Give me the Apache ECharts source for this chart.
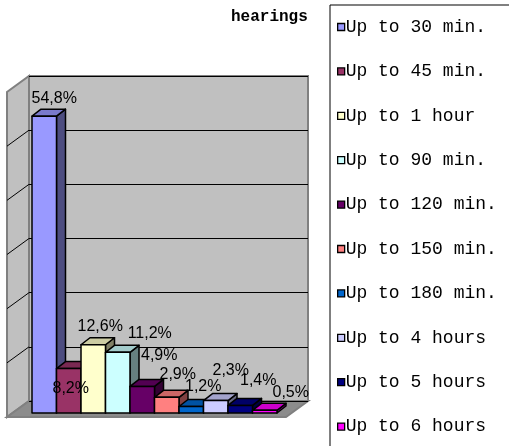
<!DOCTYPE html>
<html>
<head>
<meta charset="utf-8">
<script src="https://cdn.jsdelivr.net/npm/echarts@6/dist/echarts.min.js"></script>
<style>html,body{margin:0;padding:0;background:#fff;}#c{width:509px;height:446px;}</style>
</head>
<body>
<div id="c"></div>
<script>
// ---- data ----
const categories = ['Up to 30 min.', 'Up to 45 min.', 'Up to 1 hour', 'Up to 90 min.', 'Up to 120 min.',
  'Up to 150 min.', 'Up to 180 min.', 'Up to 4 hours', 'Up to 5 hours', 'Up to 6 hours'];
const values = [54.8, 8.2, 12.6, 11.2, 4.9, 2.9, 1.2, 2.3, 1.4, 0.5];
const axisTicks = [0, 10, 20, 30, 40, 50, 60];
const titleText = 'hearings';

// ---- styles / layout ----
const colors = ['#9999FF', '#993366', '#FFFFCC', '#CCFFFF', '#660066', '#FF8080', '#0066CC', '#CCCCFF', '#000080', '#FF00FF'];
const labelOffsets = [[10, -18], [2, 20], [7, -18], [32, -19], [17, -31], [11, -23], [12, -19.5], [15, -30], [18, -25], [26, -18]];
const W = 509, H = 446;
const wall = { x0: 29, y0: 76, x1: 308, y1: 401 };
const depth = { dx: -22, dy: 16 };
const barArea = { x0: 32, x1: 277, y1: 413 };
const barDepth = { dx: 9, dy: -7 };

function shade(hex, f) {
  const n = parseInt(hex.slice(1), 16);
  const r = Math.round(((n >> 16) & 255) * f), g = Math.round(((n >> 8) & 255) * f), b = Math.round((n & 255) * f);
  return 'rgb(' + r + ',' + g + ',' + b + ')';
}

const yMax = axisTicks[axisTicks.length - 1];
const wallH = wall.y1 - wall.y0;

const chart = echarts.init(document.getElementById('c'), null, { renderer: 'canvas' });

const barSeries = categories.map((name, i) => ({
  type: 'custom',
  name: name,
  xAxisIndex: 1,
  yAxisIndex: 1,
  data: [[i, values[i]]],
  itemStyle: { color: colors[i] },
  z: 3,
  renderItem: function (params, api) {
    const x = api.value(0), v = api.value(1);
    const base = api.coord([x, 0]);
    const top = api.coord([x, v]);
    const w = api.size([1, 0])[0];
    const l = base[0] - w / 2, r = base[0] + w / 2, b = base[1], t = top[1];
    const dx = barDepth.dx, dy = barDepth.dy;
    const c = colors[i];
    const edge = { stroke: '#000', lineWidth: 1.5, lineJoin: 'round' };
    return {
      type: 'group',
      children: [
        { type: 'polygon', shape: { points: [[r, t], [r + dx, t + dy], [r + dx, b + dy], [r, b]] },
          style: Object.assign({ fill: shade(c, 0.5) }, edge) },
        { type: 'polygon', shape: { points: [[l, t], [l + dx, t + dy], [r + dx, t + dy], [r, t]] },
          style: Object.assign({ fill: shade(c, 0.8) }, edge) },
        { type: 'rect', shape: { x: l, y: t, width: w, height: b - t },
          style: Object.assign({ fill: c }, edge) }
      ]
    };
  }
}));

const labelSeries = {
  type: 'custom',
  name: 'labels',
  xAxisIndex: 1,
  yAxisIndex: 1,
  z: 10,
  silent: true,
  data: values.map((v, i) => [i, v]),
  renderItem: function (params, api) {
    const i = api.value(0), v = api.value(1);
    const p = api.coord([i, v]);
    const o = labelOffsets[params.dataIndex];
    return {
      type: 'text',
      x: p[0] + o[0],
      y: p[1] + o[1],
      style: {
        text: v.toFixed(1).replace('.', ',') + '%',
        align: 'center', verticalAlign: 'middle',
        fontSize: 16, fontFamily: 'Liberation Sans, Arial, sans-serif', fill: '#000'
      }
    };
  }
};

// walls (decoration)
const graphics = [];
graphics.push({
  type: 'polygon', z: 0,
  shape: { points: [[wall.x0, wall.y0], [wall.x0, wall.y1], [wall.x0 + depth.dx, wall.y1 + depth.dy], [wall.x0 + depth.dx, wall.y0 + depth.dy]] },
  style: { fill: '#c0c0c0', stroke: '#808080', lineWidth: 2 }
});
graphics.push({
  type: 'polygon', z: 0,
  shape: { points: [[wall.x0, wall.y1], [wall.x1, wall.y1], [wall.x1 + depth.dx, wall.y1 + depth.dy], [wall.x0 + depth.dx, wall.y1 + depth.dy]] },
  style: { fill: '#8c8c8c', stroke: '#808080', lineWidth: 2 }
});
axisTicks.slice(1, -1).forEach(t => {
  const y = wall.y1 - t / yMax * wallH;
  graphics.push({ type: 'line', z: 1, shape: { x1: wall.x0, y1: y, x2: wall.x0 + depth.dx, y2: y + depth.dy }, style: { stroke: '#000', lineWidth: 1 } });
});
// legend box
graphics.push({ type: 'line', z: 1, shape: { x1: 330, y1: 5, x2: W, y2: 5 }, style: { stroke: '#808080', lineWidth: 2 } });
graphics.push({ type: 'line', z: 1, shape: { x1: 330, y1: 5, x2: 330, y2: H }, style: { stroke: '#000', lineWidth: 1 } });

const option = {
  animation: false,
  backgroundColor: '#fff',
  title: {
    text: titleText, left: 226, top: 4,
    textStyle: { fontFamily: 'Liberation Mono, Courier New, monospace', fontWeight: 'bold', fontSize: 16, color: '#000' }
  },
  legend: {
    orient: 'vertical', left: 337, top: 18, padding: 0,
    itemWidth: 7, itemHeight: 7, itemGap: 26.4,
    icon: 'rect',
    itemStyle: { borderColor: '#000', borderWidth: 1.3 },
    textStyle: { fontFamily: 'Liberation Mono, Courier New, monospace', fontSize: 18, color: '#000', padding: [0, 0, 0, -4] },
    data: categories.map((n, i) => ({ name: n, itemStyle: { color: colors[i] } })),
    selectedMode: false
  },
  grid: [
    { left: wall.x0, top: wall.y0, width: wall.x1 - wall.x0, height: wallH, show: true, backgroundColor: '#c0c0c0', borderColor: '#808080', borderWidth: 2, containLabel: false },
    { left: barArea.x0, top: barArea.y1 - wallH, width: barArea.x1 - barArea.x0, height: wallH, containLabel: false }
  ],
  xAxis: [
    { gridIndex: 0, type: 'category', data: ['all'], show: false },
    { gridIndex: 1, type: 'category', data: categories, show: false, boundaryGap: true }
  ],
  yAxis: [
    { gridIndex: 0, type: 'value', min: 0, max: yMax, interval: 10, axisLabel: { show: false }, axisLine: { show: false }, axisTick: { show: false },
      splitLine: { show: true, lineStyle: { color: '#000', width: 1 } } },
    { gridIndex: 1, type: 'value', min: 0, max: yMax, interval: 10, show: false, splitLine: { show: false } }
  ],
  graphic: graphics,
  series: barSeries.concat([labelSeries])
};
chart.setOption(option);
</script>
</body>
</html>
